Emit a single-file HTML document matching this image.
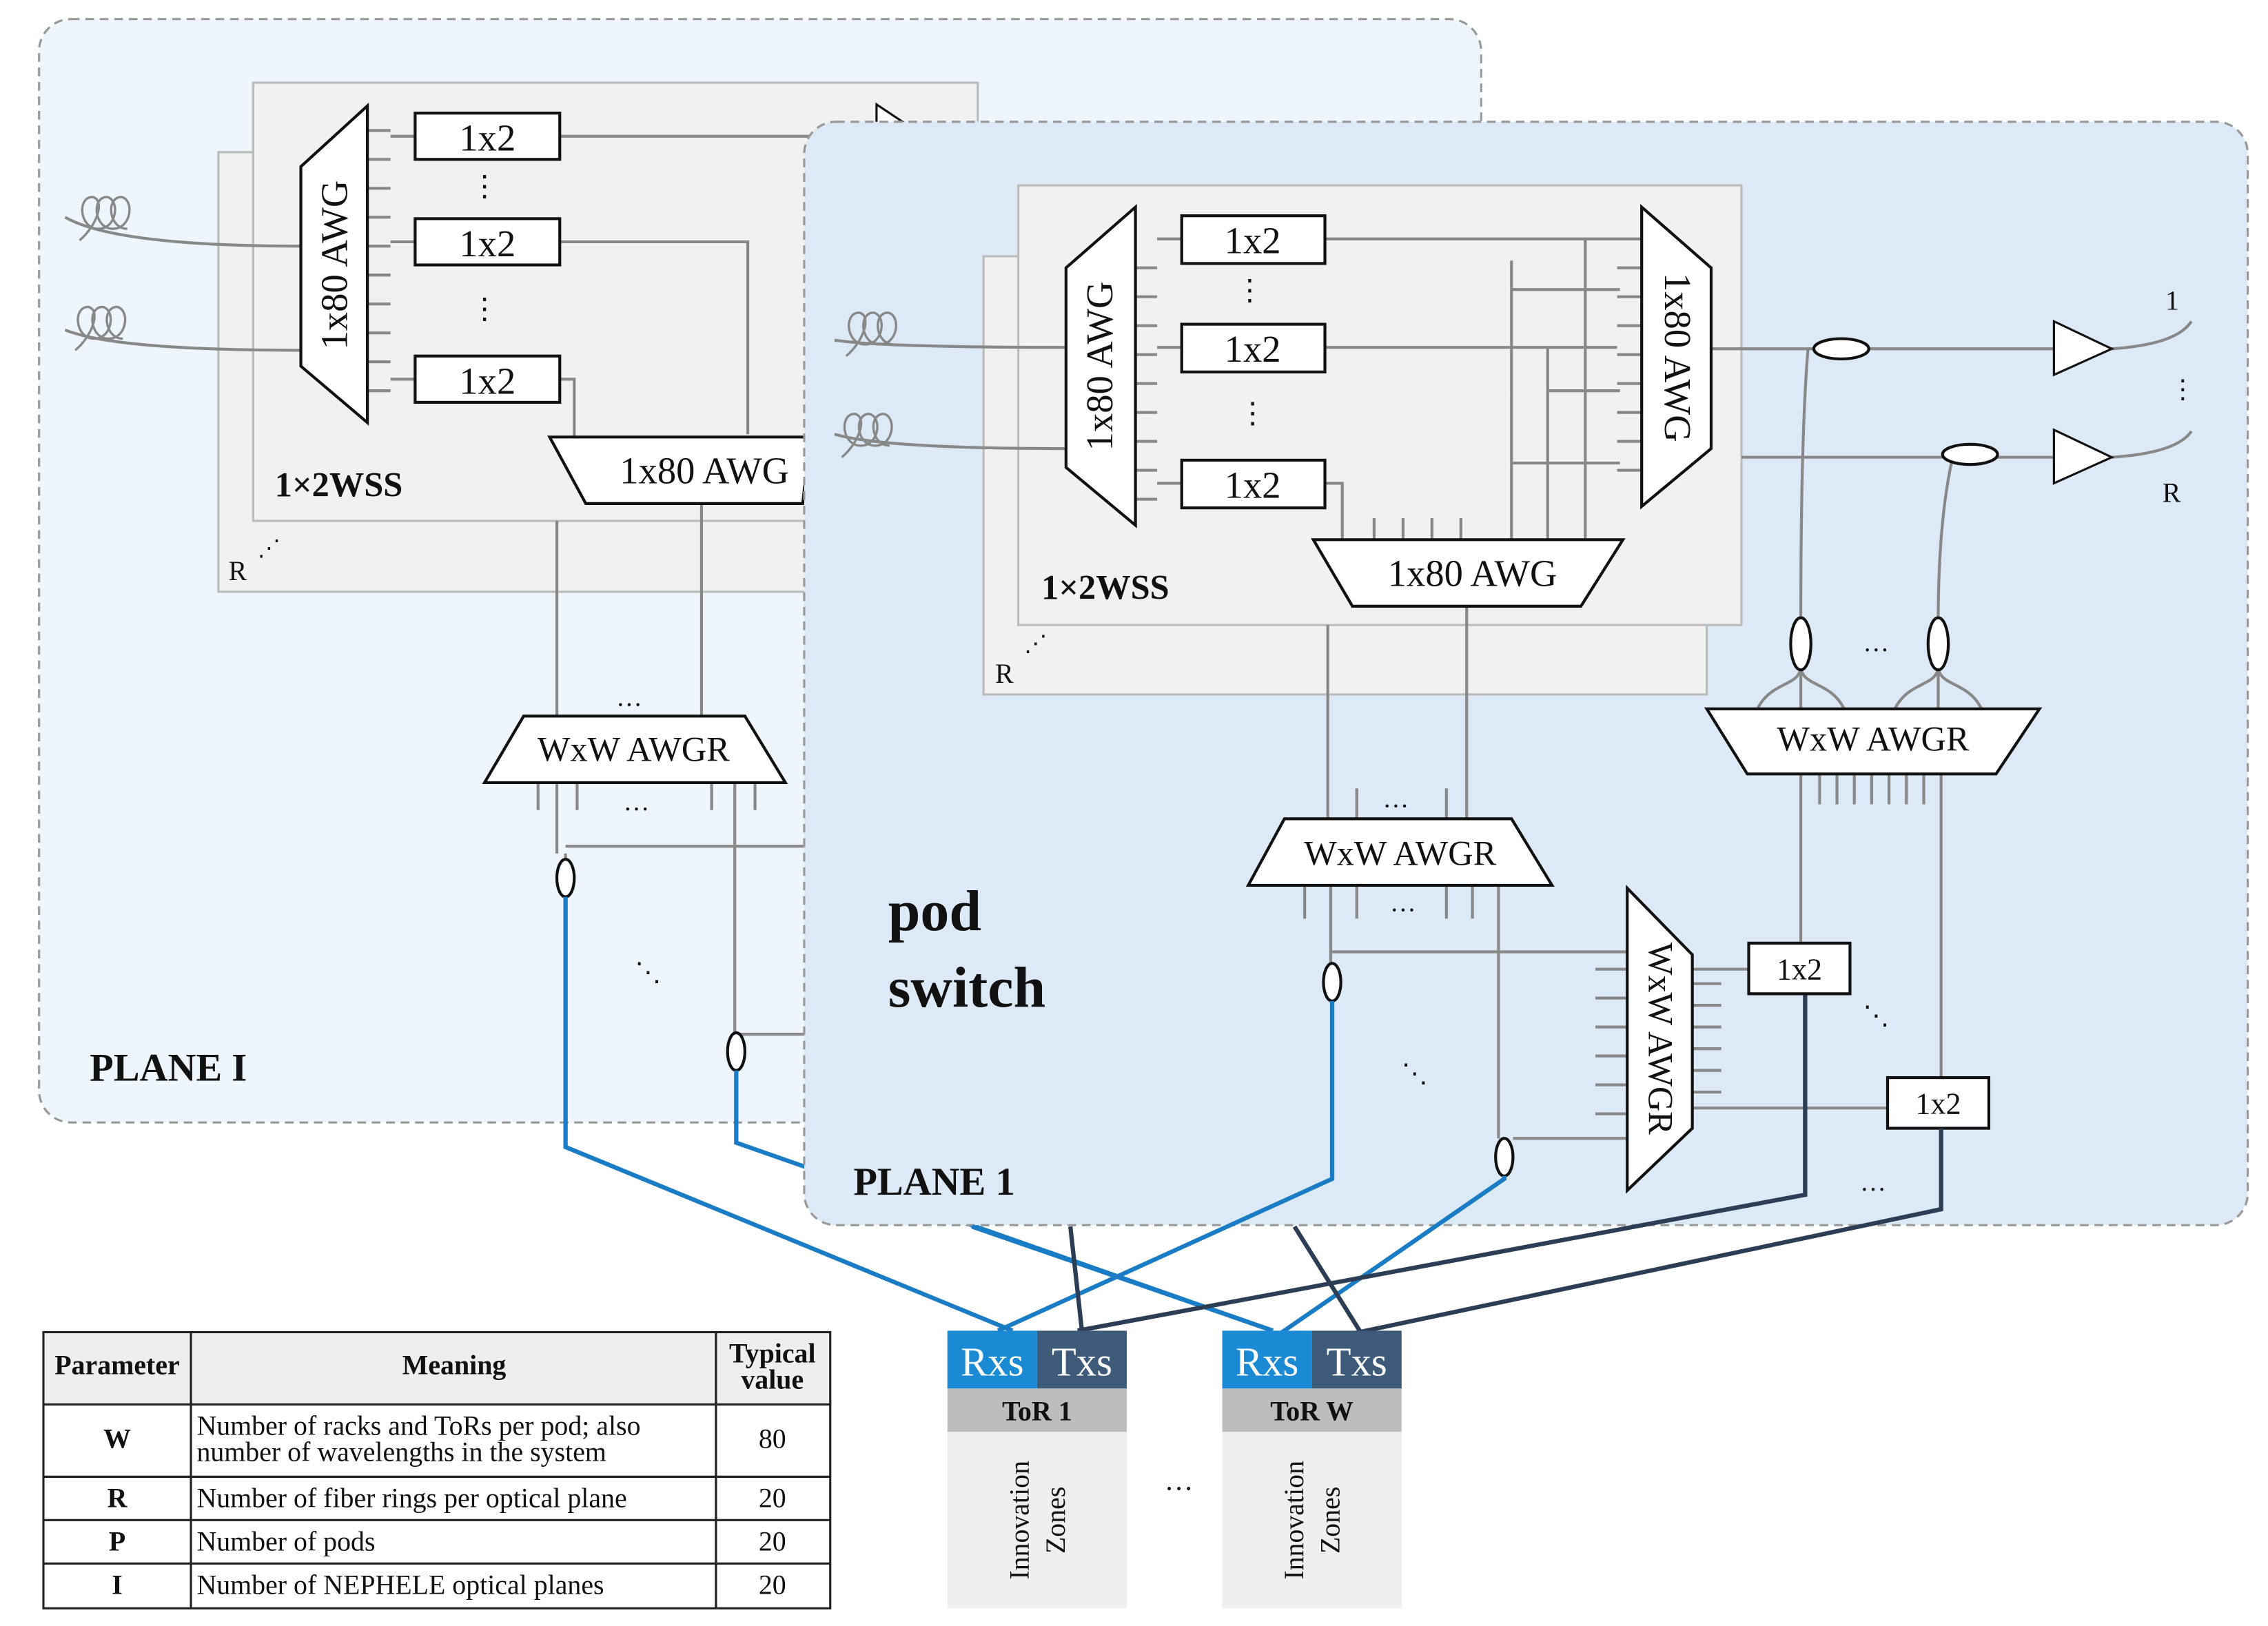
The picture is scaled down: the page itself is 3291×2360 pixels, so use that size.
<!DOCTYPE html>
<html><head><meta charset="utf-8"><style>
html,body{margin:0;padding:0;background:#fff}
svg{display:block}
text{font-family:"Liberation Serif",serif;fill:#111}
</style></head><body>
<svg width="3291" height="2360" viewBox="0 0 1568 1124" xmlns="http://www.w3.org/2000/svg">
<defs>
<g id="coil"><path d="M0,14 C12,4 18,-14 9,-16 C-2,-16 0,6 13,6 C26,6 28,-14 19,-16 C8,-16 10,6 23,6 C36,6 38,-14 29,-16 C18,-16 20,6 33,6" fill="none" stroke="#888" stroke-width="1.6"/></g>
</defs>
<!-- PLANE I -->
<rect x="27" y="13" width="997" height="763" rx="22" fill="#eef5fc" stroke="#999" stroke-dasharray="6,4" stroke-width="1.5"/>
<rect x="151" y="105" width="410" height="304" fill="#f1f1f1" stroke="#bbb" stroke-width="1.5"/>
<rect x="175" y="57" width="501" height="303" fill="#f1f1f1" stroke="#bbb" stroke-width="1.5"/>
<g stroke="#888" stroke-width="2" fill="none">
<path d="M45,150 Q80,170 208,170"/><path d="M45,228 Q80,242 208,242"/>
<path d="M387,94 H620 M387,167 H517 V300 M387,262 H397 V302 M385,360 V495 M485,348 V495"/>
<path d="M254,90 H270 M254,110 H270 M254,130 H270 M254,150 H270 M254,170 H270 M254,190 H270 M254,210 H270 M254,230 H270 M254,250 H270 M254,270 H270"/>
<path d="M270,94 H287 M270,167 H287 M270,262 H287"/>
<path d="M372,541 V560 M385,541 V590 M399,541 V560 M492,541 V560 M508,541 V740 M522,541 V560"/>
<path d="M391,590 V594 M391,585 H556 M509,715 H556"/>
</g>
<polygon points="606,72 630,88 606,104" fill="#fff" stroke="#111" stroke-width="1.5"/>
<use href="#coil" x="55" y="152"/><use href="#coil" x="52" y="228"/>
<polygon points="208,115 254,73 254,292 208,253" fill="#fff" stroke="#111" stroke-width="2"/>
<text x="232" y="183" font-size="26" text-anchor="middle" transform="rotate(-90 232 183)" dy="8">1x80 AWG</text>
<g fill="#fff" stroke="#111" stroke-width="2"><rect x="287" y="78" width="100" height="32"/><rect x="287" y="151" width="100" height="32"/><rect x="287" y="246" width="100" height="32"/></g>
<g font-size="26" text-anchor="middle"><text x="337" y="104">1x2</text><text x="337" y="177">1x2</text><text x="337" y="272">1x2</text></g>
<text x="335" y="135" font-size="20" text-anchor="middle">⋮</text><text x="335" y="220" font-size="20" text-anchor="middle">⋮</text>
<polygon points="380,302 560,302 555,348 405,348" fill="#fff" stroke="#111" stroke-width="2"/>
<text x="487" y="334" font-size="26" text-anchor="middle">1x80 AWG</text>
<text x="190" y="343" font-size="24" font-weight="bold">1×2WSS</text>
<text x="158" y="401" font-size="19">R</text><text x="178" y="384" font-size="16">⋰</text>
<polygon points="362,495 515,495 543,541 335,541" fill="#fff" stroke="#111" stroke-width="2"/>
<text x="438" y="526" font-size="24" text-anchor="middle">WxW AWGR</text>
<text x="435" y="488" font-size="18" text-anchor="middle">…</text><text x="440" y="560" font-size="18" text-anchor="middle">…</text>
<text x="448" y="678" font-size="18" text-anchor="middle">⋱</text>
<ellipse cx="391" cy="607" rx="6" ry="13" fill="#fff" stroke="#111" stroke-width="2"/>
<ellipse cx="509" cy="727" rx="6" ry="13" fill="#fff" stroke="#111" stroke-width="2"/>
<text x="62" y="747" font-size="27" font-weight="bold">PLANE I</text>
<g fill="none" stroke-width="3">
<path d="M391,620 V793 L700,920" stroke="#1a7cc4"/>
<path d="M509,740 V790 L880,920" stroke="#1a7cc4"/>
</g>
<!-- PLANE 1 -->
<rect x="556" y="84" width="998" height="763" rx="22" fill="#dce9f6" stroke="#999" stroke-dasharray="6,4" stroke-width="1.5"/>
<rect x="680" y="177" width="500" height="303" fill="#f1f1f1" stroke="#bbb" stroke-width="1.5"/>
<rect x="704" y="128" width="500" height="304" fill="#f1f1f1" stroke="#bbb" stroke-width="1.5"/>
<g stroke="#888" stroke-width="2" fill="none">
<path d="M577,235 Q610,240 737,240"/><path d="M577,300 Q610,310 737,310"/>
<path d="M916,165 H1135 M916,240 H1118 M916,334 H928 V373"/>
<path d="M1096,165 V373 M1070,240 V373 M1045,180 V373 M1120,200 H1045 M1120,270 H1070 M1120,320 H1045"/>
<path d="M785,185 H800 M785,205 H800 M785,225 H800 M785,245 H800 M785,265 H800 M785,285 H800 M785,305 H800 M785,325 H800 M785,345 H800"/>
<path d="M800,165 H817 M800,240 H817 M800,334 H817"/>
<path d="M1135,185 H1118 M1135,205 H1118 M1135,225 H1118 M1135,245 H1118 M1135,265 H1118 M1135,285 H1118 M1135,305 H1118 M1135,325 H1118"/>
<path d="M950,358 V373 M970,358 V373 M990,358 V373 M1010,358 V373"/>
<path d="M1183,241 H1420 M1204,316 H1420 M1460,241 Q1505,238 1515,222 M1460,316 Q1505,313 1515,298"/>
<path d="M918,432 V566 M1014,419 V566"/>
<path d="M1250,241 Q1245,300 1245,430 M1350,316 Q1340,360 1340,430"/>
<path d="M1245,460 C1245,475 1225,470 1215,490 M1245,460 C1245,475 1265,470 1275,490 M1245,460 V490 M1340,460 C1340,475 1320,470 1310,490 M1340,460 C1340,475 1360,470 1370,490 M1340,460 V490"/>
<path d="M1245,535 V652 M1342,535 V745 M1258,535 V556 M1270,535 V556 M1282,535 V556 M1294,535 V556 M1306,535 V556 M1318,535 V556 M1330,535 V556"/>
<path d="M902,612 V635 M920,612 V666 M938,612 V635 M1000,612 V635 M1018,612 V635 M1036,612 V787 M920,658 H1125 M1046,787 H1125"/>
<path d="M938,545 V566 M1000,545 V566"/>
<path d="M1170,670 H1209 M1170,766 H1305 M1170,680 H1190 M1170,695 H1190 M1170,710 H1190 M1170,725 H1190 M1170,740 H1190 M1170,755 H1190"/>
<path d="M1103,670 H1125 M1103,690 H1125 M1103,710 H1125 M1103,730 H1125 M1103,750 H1125 M1103,770 H1125"/>
</g>
<use href="#coil" x="585" y="232"/><use href="#coil" x="582" y="302"/>
<polygon points="737,185 785,143 785,363 737,323" fill="#fff" stroke="#111" stroke-width="2"/>
<text x="761" y="253" font-size="26" text-anchor="middle" transform="rotate(-90 761 253)" dy="8">1x80 AWG</text>
<polygon points="1135,143 1183,185 1183,310 1135,350" fill="#fff" stroke="#111" stroke-width="2"/>
<text x="1159" y="247" font-size="26" text-anchor="middle" transform="rotate(90 1159 247)" dy="8">1x80 AWG</text>
<g fill="#fff" stroke="#111" stroke-width="2"><rect x="817" y="149" width="99" height="33"/><rect x="817" y="224" width="99" height="33"/><rect x="817" y="318" width="99" height="33"/></g>
<g font-size="26" text-anchor="middle"><text x="866" y="175">1x2</text><text x="866" y="250">1x2</text><text x="866" y="344">1x2</text></g>
<text x="864" y="207" font-size="20" text-anchor="middle">⋮</text><text x="866" y="292" font-size="20" text-anchor="middle">⋮</text>
<polygon points="908,373 1122,373 1093,419 935,419" fill="#fff" stroke="#111" stroke-width="2"/>
<text x="1018" y="405" font-size="26" text-anchor="middle">1x80 AWG</text>
<text x="720" y="414" font-size="24" font-weight="bold">1×2WSS</text>
<text x="688" y="472" font-size="19">R</text><text x="708" y="450" font-size="16">⋰</text>
<polygon points="1420,222 1460,241 1420,259" fill="#fff" stroke="#111" stroke-width="1.5"/>
<polygon points="1420,297 1460,316 1420,334" fill="#fff" stroke="#111" stroke-width="1.5"/>
<text x="1497" y="214" font-size="19">1</text><text x="1495" y="347" font-size="19">R</text>
<text x="1500" y="275" font-size="18">⋮</text>
<ellipse cx="1273" cy="241" rx="19" ry="7" fill="#fff" stroke="#111" stroke-width="2"/>
<ellipse cx="1362" cy="314" rx="19" ry="7" fill="#fff" stroke="#111" stroke-width="2"/>
<ellipse cx="1245" cy="445" rx="7" ry="18" fill="#fff" stroke="#111" stroke-width="2"/>
<ellipse cx="1340" cy="445" rx="7" ry="18" fill="#fff" stroke="#111" stroke-width="2"/>
<text x="1297" y="450" font-size="18" text-anchor="middle">…</text>
<polygon points="1180,490 1410,490 1380,535 1208,535" fill="#fff" stroke="#111" stroke-width="2"/>
<text x="1295" y="519" font-size="24" text-anchor="middle">WxW AWGR</text>
<polygon points="888,566 1045,566 1073,612 863,612" fill="#fff" stroke="#111" stroke-width="2"/>
<text x="968" y="598" font-size="24" text-anchor="middle">WxW AWGR</text>
<text x="965" y="558" font-size="18" text-anchor="middle">…</text><text x="970" y="630" font-size="18" text-anchor="middle">…</text>
<polygon points="1125,614 1170,660 1170,780 1125,823" fill="#fff" stroke="#111" stroke-width="2"/>
<text x="1148" y="718" font-size="24" text-anchor="middle" transform="rotate(90 1148 718)" dy="8">WxW AWGR</text>
<g fill="#fff" stroke="#111" stroke-width="2"><rect x="1209" y="652" width="70" height="35"/><rect x="1305" y="745" width="70" height="35"/></g>
<text x="1244" y="677" font-size="21" text-anchor="middle">1x2</text><text x="1340" y="770" font-size="21" text-anchor="middle">1x2</text>
<text x="1297" y="708" font-size="18" text-anchor="middle">⋱</text><text x="978" y="748" font-size="18" text-anchor="middle">⋱</text>
<text x="1295" y="823" font-size="18" text-anchor="middle">…</text>
<ellipse cx="921" cy="679" rx="6" ry="13" fill="#fff" stroke="#111" stroke-width="2"/>
<ellipse cx="1040" cy="800" rx="6" ry="13" fill="#fff" stroke="#111" stroke-width="2"/>
<text x="614" y="643" font-size="40" font-weight="bold">pod</text>
<text x="614" y="696" font-size="40" font-weight="bold">switch</text>
<text x="590" y="826" font-size="27" font-weight="bold">PLANE 1</text>
<!-- connectors -->
<g fill="none" stroke-width="3">
<path d="M672,848 L880,920" stroke="#1a7cc4"/>
<path d="M921,692 V815 L690,920" stroke="#1a7cc4"/>
<path d="M1040,813 V815 L885,922" stroke="#1a7cc4"/>
<path d="M1248,688 V826 L745,920" stroke="#2c3e55"/>
<path d="M1342,780 V836 L935,922" stroke="#2c3e55"/>
<path d="M740,848 L748,920" stroke="#2c3e55"/>
<path d="M895,848 L940,920" stroke="#2c3e55"/>
</g>
<!-- ToRs -->
<g font-size="28">
<rect x="655" y="920" width="62" height="40" fill="#1a8ad4"/><rect x="717" y="920" width="62" height="40" fill="#3d5a78"/>
<text x="686" y="951" text-anchor="middle" style="fill:#fff">Rxs</text><text x="748" y="951" text-anchor="middle" style="fill:#fff">Txs</text>
<rect x="845" y="920" width="62" height="40" fill="#1a8ad4"/><rect x="907" y="920" width="62" height="40" fill="#3d5a78"/>
<text x="876" y="951" text-anchor="middle" style="fill:#fff">Rxs</text><text x="938" y="951" text-anchor="middle" style="fill:#fff">Txs</text>
</g>
<rect x="655" y="960" width="124" height="30" fill="#bdbdbd"/><rect x="845" y="960" width="124" height="30" fill="#bdbdbd"/>
<text x="717" y="982" font-size="19" font-weight="bold" text-anchor="middle">ToR 1</text>
<text x="907" y="982" font-size="19" font-weight="bold" text-anchor="middle">ToR W</text>
<rect x="655" y="990" width="124" height="122" fill="#efefef"/><rect x="845" y="990" width="124" height="122" fill="#efefef"/>
<g font-size="19" text-anchor="middle">
<text transform="translate(711,1051) rotate(-90)">Innovation</text><text transform="translate(736,1051) rotate(-90)">Zones</text>
<text transform="translate(901,1051) rotate(-90)">Innovation</text><text transform="translate(926,1051) rotate(-90)">Zones</text>
</g>
<text x="815" y="1030" font-size="20" text-anchor="middle">…</text>
<!-- Table -->
<rect x="30" y="921" width="544" height="50" fill="#eeeeee"/>
<g stroke="#222" stroke-width="1.5" fill="none">
<rect x="30" y="921" width="544" height="191"/>
<path d="M132,921 V1112 M495,921 V1112 M30,971 H574 M30,1021 H574 M30,1051 H574 M30,1081 H574"/>
</g>
<g font-size="19">
<text x="81" y="950" text-anchor="middle" font-weight="bold">Parameter</text>
<text x="314" y="950" text-anchor="middle" font-weight="bold">Meaning</text>
<text x="534" y="942" text-anchor="middle" font-weight="bold">Typical</text>
<text x="534" y="960" text-anchor="middle" font-weight="bold">value</text>
<text x="81" y="1001" text-anchor="middle" font-weight="bold">W</text>
<text x="136" y="992">Number of racks and ToRs per pod; also</text>
<text x="136" y="1010">number of wavelengths in the system</text>
<text x="534" y="1001" text-anchor="middle">80</text>
<text x="81" y="1042" text-anchor="middle" font-weight="bold">R</text>
<text x="136" y="1042">Number of fiber rings per optical plane</text><text x="534" y="1042" text-anchor="middle">20</text>
<text x="81" y="1072" text-anchor="middle" font-weight="bold">P</text>
<text x="136" y="1072">Number of pods</text><text x="534" y="1072" text-anchor="middle">20</text>
<text x="81" y="1102" text-anchor="middle" font-weight="bold">I</text>
<text x="136" y="1102">Number of NEPHELE optical planes</text><text x="534" y="1102" text-anchor="middle">20</text>
</g>
</svg>
</body></html>
